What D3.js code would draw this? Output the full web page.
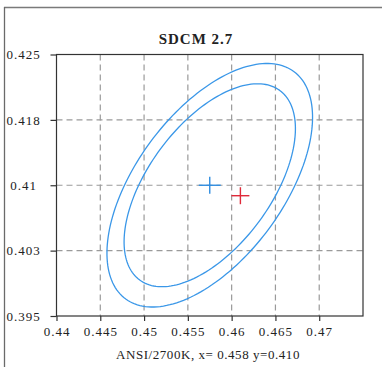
<!DOCTYPE html>
<html>
<head>
<meta charset="utf-8">
<script src="https://cdn.jsdelivr.net/npm/d3@7"></script>
<style>
  body { margin: 0; background: #fff; }
  svg text { font-family: "Liberation Serif", "DejaVu Serif", serif; fill: #222; }
  .tick text { font-size: 13px; letter-spacing: 1px; }
  .grid line { stroke: #9a9a9a; stroke-width: 1.2; stroke-dasharray: 6,4; }
</style>
</head>
<body>
<svg width="382" height="367"></svg>
<script>
  // chart values
  const xTicks = [0.44, 0.445, 0.45, 0.455, 0.46, 0.465, 0.47];
  const xTickLabels = ['0.44', '0.445', '0.45', '0.455', '0.46', '0.465', '0.47'];
  const yTicks = [0.395, 0.4025, 0.41, 0.4175, 0.425];
  const yTickLabels = ['0.395', '0.403', '0.41', '0.418', '0.425'];

  const ellipseCenter = [0.4575, 0.41];
  const ellipseSteps = [5, 6];
  const stepA = 0.0027;
  const stepB = 0.0014;
  const ellipseAngle = 53.7;

  const targetPoint = [0.4575, 0.41];
  const measuredPoint = [0.461, 0.4088];

  const svg = d3.select('svg');

  // outer frame
  svg.append('line').attr('x1', 4).attr('x2', 382).attr('y1', 7.5).attr('y2', 7.5)
    .attr('stroke', '#7a7a7a').attr('stroke-width', 1.3);
  svg.append('line').attr('x1', 4.5).attr('x2', 4.5).attr('y1', 7).attr('y2', 367)
    .attr('stroke', '#6a6a6a').attr('stroke-width', 1.3);

  const x = d3.scaleLinear().domain([0.44, 0.475]).range([56.5, 363]);
  const y = d3.scaleLinear().domain([0.395, 0.425]).range([316, 54.5]);

  // grid
  const grid = svg.append('g').attr('class', 'grid');
  grid.selectAll('.gx')
    .data(xTicks.slice(1))
    .enter().append('line')
    .attr('x1', d => x(d)).attr('x2', d => x(d))
    .attr('y1', y.range()[1]).attr('y2', y.range()[0]);
  grid.selectAll('.gy')
    .data(yTicks.slice(1, -1))
    .enter().append('line')
    .attr('y1', d => y(d)).attr('y2', d => y(d))
    .attr('x1', x.range()[0]).attr('x2', x.range()[1]);

  // ellipses
  const ellipsePoints = step => {
    const a = stepA * step, b = stepB * step;
    const th = ellipseAngle * Math.PI / 180;
    return d3.range(0, 360, 2).map(deg => {
      const t = deg * Math.PI / 180;
      return [
        ellipseCenter[0] + a * Math.cos(t) * Math.cos(th) - b * Math.sin(t) * Math.sin(th),
        ellipseCenter[1] + a * Math.cos(t) * Math.sin(th) + b * Math.sin(t) * Math.cos(th)
      ];
    });
  };
  const line = d3.line().x(d => x(d[0])).y(d => y(d[1])).curve(d3.curveLinearClosed);

  svg.selectAll('.ellipse')
    .data(ellipseSteps)
    .enter().append('path')
    .attr('class', 'ellipse')
    .attr('d', d => line(ellipsePoints(d)))
    .attr('fill', 'none')
    .attr('stroke', '#3a97e8')
    .attr('stroke-width', 1.3);

  // crosses
  const cross = (p, color, hw, hh) => {
    const g = svg.append('g').attr('stroke', color).attr('stroke-width', 1.4);
    g.append('line').attr('x1', x(p[0]) - hw).attr('x2', x(p[0]) + hw)
      .attr('y1', y(p[1])).attr('y2', y(p[1]));
    g.append('line').attr('x1', x(p[0])).attr('x2', x(p[0]))
      .attr('y1', y(p[1]) - hh).attr('y2', y(p[1]) + hh);
  };
  cross(targetPoint, '#2f8de0', 11, 8.5);
  cross(measuredPoint, '#e02a3a', 9, 8.5);

  // plot border
  svg.append('rect')
    .attr('x', x.range()[0]).attr('y', y.range()[1])
    .attr('width', x.range()[1] - x.range()[0])
    .attr('height', y.range()[0] - y.range()[1])
    .attr('fill', 'none').attr('stroke', '#333').attr('stroke-width', 1.2);

  // axes
  const xAxis = svg.append('g')
    .attr('transform', `translate(0,${y.range()[0]})`)
    .call(d3.axisBottom(x).tickValues(xTicks).tickSize(5).tickPadding(6)
      .tickFormat((d, i) => xTickLabels[i]));
  const yAxis = svg.append('g')
    .attr('transform', `translate(${x.range()[0]},0)`)
    .call(d3.axisLeft(y).tickValues(yTicks).tickSize(6).tickPadding(0)
      .tickFormat((d, i) => yTickLabels[i]));
  [xAxis, yAxis].forEach(a => {
    a.select('.domain').remove();
    a.selectAll('.tick line').attr('stroke', '#333').attr('stroke-width', 1.2);
    a.attr('font-family', null).attr('font-size', null);
  });
  yAxis.selectAll('.tick text')
    .attr('text-anchor', 'middle')
    .attr('x', 23.5 - x.range()[0]);

  // titles
  svg.append('text')
    .attr('x', 196).attr('y', 44)
    .attr('text-anchor', 'middle')
    .attr('font-size', 15).attr('font-weight', 'bold')
    .attr('letter-spacing', 1)
    .text('SDCM 2.7');

  svg.append('text')
    .attr('x', 208).attr('y', 359)
    .attr('text-anchor', 'middle')
    .attr('font-size', 13)
    .attr('letter-spacing', 0.55)
    .text('ANSI/2700K, x= 0.458 y=0.410');
</script>
</body>
</html>
